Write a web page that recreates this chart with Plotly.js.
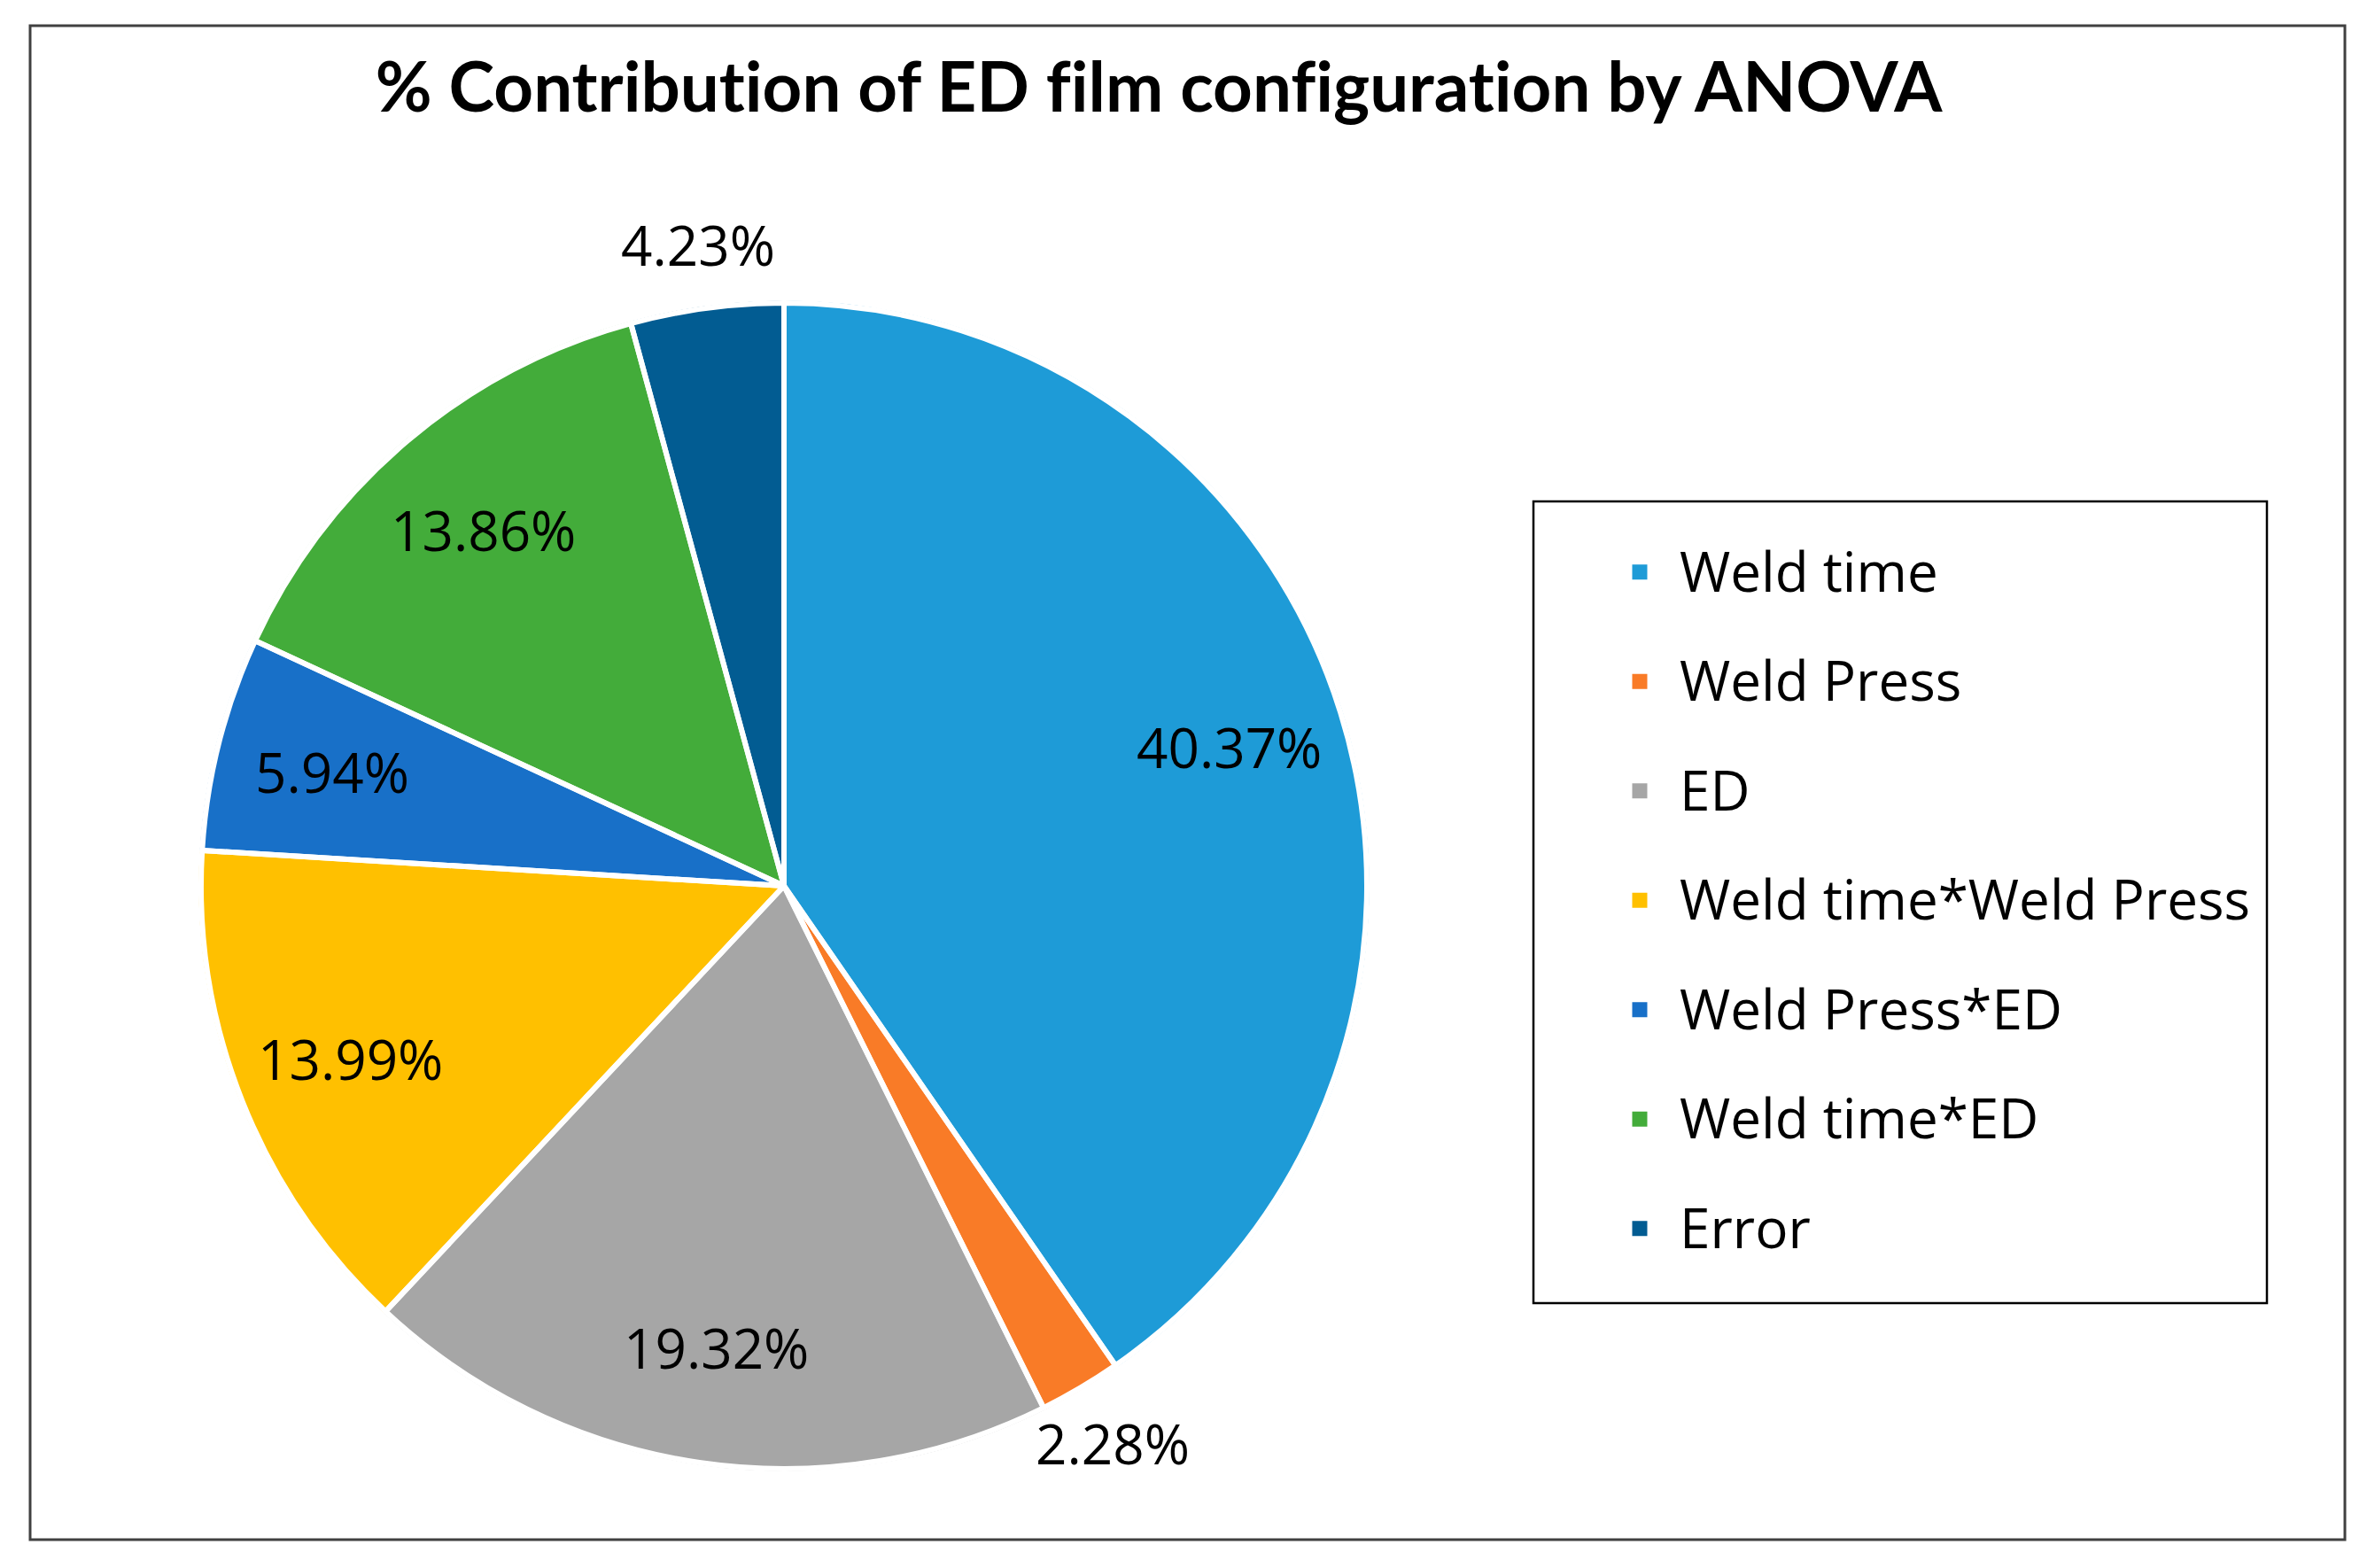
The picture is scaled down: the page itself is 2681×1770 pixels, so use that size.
<!DOCTYPE html>
<html>
<head>
<meta charset="utf-8">
<script src="https://cdn.plot.ly/plotly-3.0.1.min.js"></script>
<style>
  html, body { margin: 0; padding: 0; background: #ffffff; }
  #chart { width: 2681px; height: 1770px; }
  #chart svg text { font-variant-ligatures: none; font-feature-settings: "liga" 0, "clig" 0; }
</style>
</head>
<body>
<div id="chart"></div>
<script>
// ---- Data ----
const categories = [
  "Weld time",
  "Weld Press",
  "ED",
  "Weld time*Weld Press",
  "Weld Press*ED",
  "Weld time*ED",
  "Error"
];
const contribution = [40.37, 2.28, 19.32, 13.99, 5.94, 13.86, 4.23];
const labelPositions = ["inside", "outside", "inside", "inside", "inside", "inside", "outside"];
const sliceColors = ["#1E9BD7", "#F97B27", "#A6A6A6", "#FFC000", "#1870C8", "#43AC3A", "#025C92"];
const chartTitle = "% Contribution of ED film configuration by ANOVA";

const W = 2681, H = 1770;
// pie geometry (pixels)
const cx = 885, cy = 1000, r = 658;
const domain = {
  x: [(cx - r) / W, (cx + r) / W],
  y: [(H - cy - r) / H, (H - cy + r) / H]
};

const legendLabels = categories.map(c =>
  '<span style="font-size:62px;baseline-shift:14px">' + c + '</span>'
);

// Filled slices (also feed the legend); outline in slice colour enlarges the legend swatch
const pieFill = {
  type: "pie",
  labels: legendLabels,
  values: contribution,
  sort: false,
  direction: "clockwise",
  rotation: 0,
  marker: { colors: sliceColors, line: { color: sliceColors, width: 5 } },
  textinfo: "none",
  hoverinfo: "label+percent",
  automargin: false,
  domain: domain
};

// White separators drawn on top
const pieLines = {
  type: "pie",
  labels: legendLabels,
  values: contribution,
  sort: false,
  direction: "clockwise",
  rotation: 0,
  marker: { colors: sliceColors.map(() => "rgba(0,0,0,0)"), line: { color: "#ffffff", width: 6 } },
  textinfo: "none",
  hoverinfo: "skip",
  showlegend: false,
  automargin: false,
  domain: domain
};

// Data labels placed at the slice mid-angles (computed from the values)
const total = contribution.reduce((a, b) => a + b, 0);
let cum = 0;
const annotations = contribution.map((v, i) => {
  const mid = (cum + v / 2) / total * 2 * Math.PI;
  cum += v;
  const rf = labelPositions[i] === "inside" ? 0.80 : 1.11;
  const px = cx + rf * r * Math.sin(mid);
  const py = cy - rf * r * Math.cos(mid);
  return {
    xref: "paper", yref: "paper",
    x: px / W, y: 1 - py / H,
    xanchor: "center", yanchor: "middle",
    text: v.toFixed(2) + "%",
    showarrow: false,
    font: { family: "Open Sans, sans-serif", size: 62, color: "#000000" }
  };
});

const layout = {
  width: W,
  height: H,
  margin: { l: 0, r: 0, t: 0, b: 0, pad: 0 },
  paper_bgcolor: "#ffffff",
  title: {
    text: "<b>" + chartTitle + "</b>",
    x: 1308 / W,
    xref: "container",
    xanchor: "center",
    y: 1 - 99 / H,
    yref: "container",
    yanchor: "middle",
    font: { family: "Lato, Open Sans, sans-serif", size: 78, color: "#000000" }
  },
  showlegend: true,
  legend: {
    x: 1806 / W,
    xanchor: "left",
    y: 1 - 579 / H,
    yanchor: "top",
    bgcolor: "rgba(0,0,0,0)",
    borderwidth: 0,
    itemwidth: 80,
    font: { family: "Open Sans, sans-serif", size: 92.7, color: "#000000" },
    traceorder: "normal"
  },
  annotations: annotations,
  shapes: [
    // outer chart border
    { type: "rect", xref: "paper", yref: "paper",
      x0: 34 / W, x1: 2647 / W, y0: 1 - 1738 / H, y1: 1 - 29 / H,
      line: { color: "#404040", width: 3 }, fillcolor: "rgba(0,0,0,0)" },
    // legend box
    { type: "rect", xref: "paper", yref: "paper",
      x0: 1731 / W, x1: 2559 / W, y0: 1 - 1471 / H, y1: 1 - 566 / H,
      line: { color: "#000000", width: 2.5 }, fillcolor: "rgba(0,0,0,0)" }
  ]
};

Plotly.newPlot("chart", [pieFill, pieLines], layout, { displayModeBar: false, staticPlot: true });
</script>
</body>
</html>
